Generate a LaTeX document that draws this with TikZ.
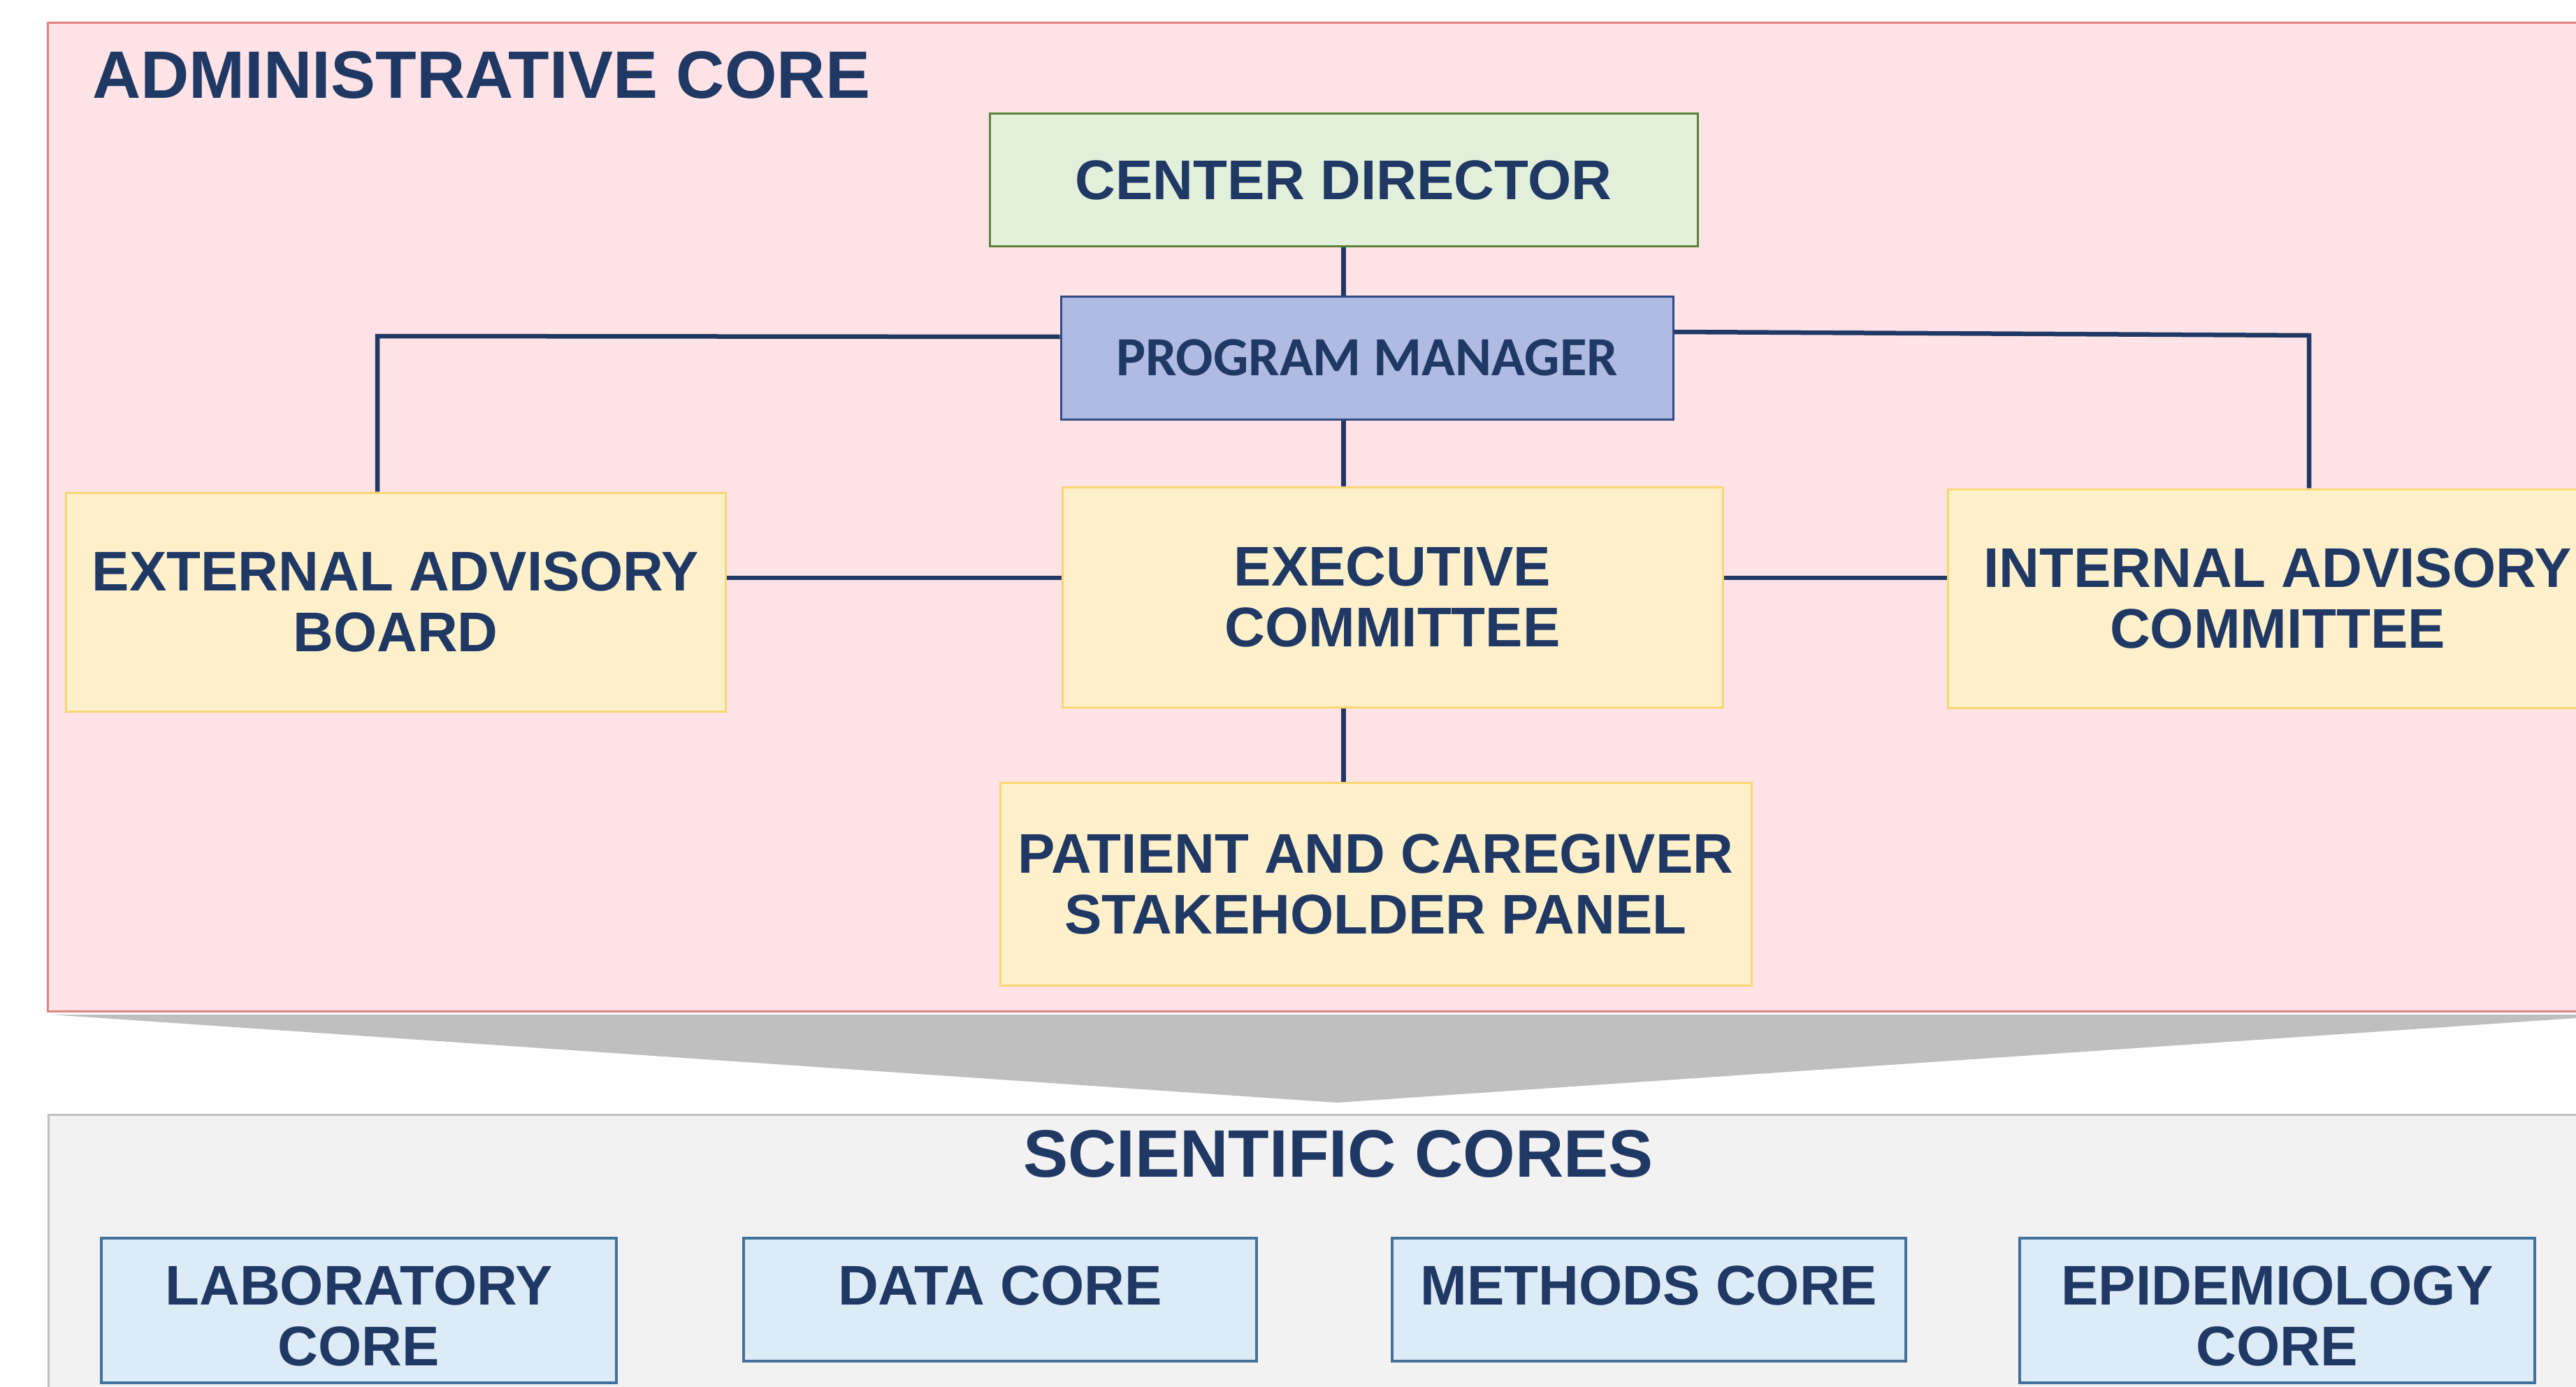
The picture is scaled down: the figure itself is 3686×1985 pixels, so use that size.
\documentclass[tikz,border=0pt]{standalone}
\usepackage{fontspec}
\setmainfont{Liberation Sans}
\newfontfamily\calibfont{Carlito}
\usetikzlibrary{calc}
\definecolor{navy}{HTML}{1F3864}
\definecolor{pinkbg}{HTML}{FFE3E6}
\definecolor{pinkline}{HTML}{E38080}
\definecolor{yfill}{HTML}{FFF0CC}
\definecolor{yline}{HTML}{FAD772}
\definecolor{gfill}{HTML}{E2EFDA}
\definecolor{gline}{HTML}{5A8236}
\definecolor{pmfill}{HTML}{AFBBE2}
\definecolor{pmline}{HTML}{2F4C86}
\definecolor{cfill}{HTML}{DDEBF7}
\definecolor{cline}{HTML}{41719C}
\definecolor{scifill}{HTML}{F2F2F2}
\definecolor{sciline}{HTML}{C0C0C0}
\definecolor{arrowgray}{HTML}{BFBFBF}
\tikzset{
  boxfont/.style={font=\bfseries\fontsize{80}{87}\selectfont},
  titlefont/.style={font=\bfseries\fontsize{96}{110}\selectfont},
  basebox/.style={rectangle, line width=3pt, inner sep=0pt, align=center, text=navy, boxfont},
  ybox/.style={basebox, draw=yline, fill=yfill},
  gbox/.style={basebox, draw=gline, fill=gfill},
  pmbox/.style={basebox, draw=pmline, fill=pmfill, font=\calibfont\bfseries\fontsize{79}{87}\selectfont},
  corebox/.style={rectangle, line width=3.5pt, draw=cline, fill=cfill, inner sep=0pt},
  coretext/.style={inner sep=0pt, align=center, text=navy, boxfont, anchor=north},
  conn/.style={draw=navy, line width=6.5pt, line join=miter},
  title/.style={inner sep=0pt, text=navy, titlefont}
}
\begin{document}
\begin{tikzpicture}[x=1pt,y=-1pt]
\useasboundingbox (0,0) rectangle (3686,1985);
\clip (0,0) rectangle (3686,1985);
\fill[white] (0,0) rectangle (3686,1985);
% panels
\draw[fill=pinkbg, draw=pinkline, line width=3pt] (68,33) rectangle (3800,1447);
\fill[arrowgray] (73,1452) -- (3760,1452) -- (1913,1578) -- cycle;
\draw[fill=scifill, draw=sciline, line width=3pt] (69,1595) rectangle (3800,2100);
% titles
\node[title, anchor=base west] (admintitle) at (132,141) {ADMINISTRATIVE CORE};
\node[title, anchor=base] (scititle) at (1915,1684) {SCIENTIFIC CORES};
% admin boxes
\node[gbox, minimum width=1013pt, minimum height=189pt] (cd) at (1922.5,257.5) {CENTER DIRECTOR};
\node[pmbox, minimum width=876pt, minimum height=176pt] (pm) at (1956,512) {PROGRAM MANAGER};
\node[ybox, minimum width=945pt, minimum height=315pt] (exec) at (1992.5,854.5) {EXECUTIVE\\COMMITTEE};
\node[ybox, minimum width=944pt, minimum height=313pt] (eab) at (566,861.5) {EXTERNAL ADVISORY\\BOARD};
\node[ybox, minimum width=944pt, minimum height=313pt] (iac) at (3259,856.5) {INTERNAL ADVISORY\\COMMITTEE};
\node[ybox, minimum width=1075pt, minimum height=290pt] (pat) at (1968.5,1265) {PATIENT AND CAREGIVER\\STAKEHOLDER PANEL};
% connectors
\coordinate (lcorner) at (540,481);
\coordinate (rcorner) at (3304,480);
\coordinate (hy) at (0,827);
\coordinate (pml) at (0,482);
\coordinate (pmr) at (0,475);
\draw[conn] (cd.south) -- (cd.south |- pm.north);
\draw[conn] (cd.south |- pm.south) -- (cd.south |- exec.north);
\draw[conn] (cd.south |- exec.south) -- (cd.south |- pat.north);
\draw[conn] (eab.east |- hy) -- (exec.west |- hy);
\draw[conn] (exec.east |- hy) -- (iac.west |- hy);
\draw[conn] (pm.west |- pml) -- (lcorner) -- (lcorner |- eab.north);
\draw[conn] (pm.east |- pmr) -- (rcorner) -- (rcorner |- iac.north);
% scientific cores
\node[corebox, minimum width=737pt, minimum height=207pt] (lab) at (513.5,1875.5) {};
\node[corebox, minimum width=734pt, minimum height=176pt] (data) at (1431,1860) {};
\node[corebox, minimum width=735pt, minimum height=176pt] (meth) at (2359.5,1860) {};
\node[corebox, minimum width=737pt, minimum height=207pt] (epi) at (3258.5,1875.5) {};
\node[coretext] (labt) at ($(lab.north)+(0,41)$) {LABORATORY\\CORE};
\node[coretext] (datat) at ($(data.north)+(0,41)$) {DATA CORE};
\node[coretext] (metht) at ($(meth.north)+(0,41)$) {METHODS CORE};
\node[coretext] (epit) at ($(epi.north)+(0,41)$) {EPIDEMIOLOGY\\CORE};
\end{tikzpicture}
\end{document}
